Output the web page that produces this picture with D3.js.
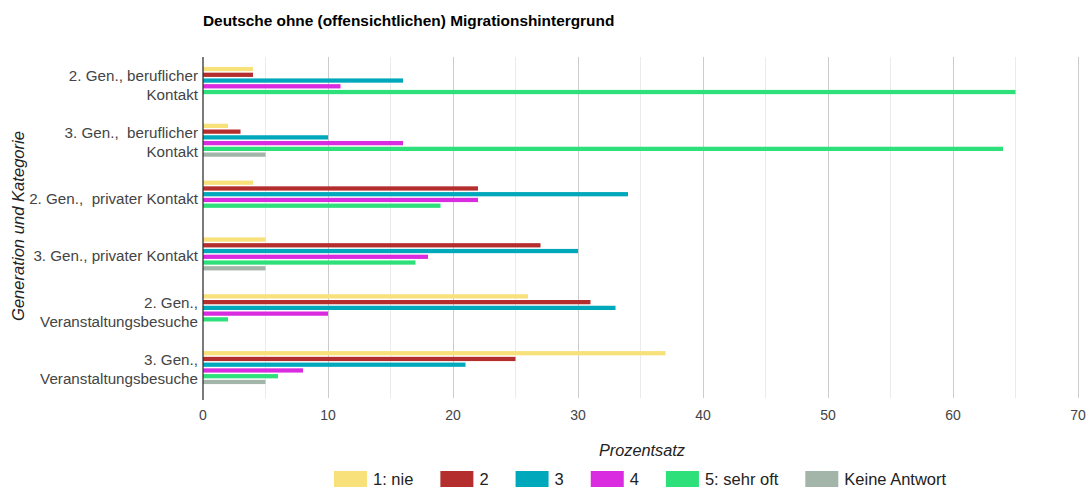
<!DOCTYPE html>
<html>
<head>
<meta charset="utf-8">
<script src="https://cdn.jsdelivr.net/npm/d3@7/dist/d3.min.js"></script>
<style>
  html, body { margin: 0; padding: 0; background: #fff; }
  svg { display: block; font-family: "Liberation Sans", Arial, sans-serif; }
  text { white-space: pre; }
</style>
</head>
<body>
<svg id="chart" width="1090" height="489"></svg>
<script>
const title = "Deutsche ohne (offensichtlichen) Migrationshintergrund";
const categories = [
  "2. Gen., beruflicher Kontakt",
  "3. Gen.,  beruflicher Kontakt",
  "2. Gen.,  privater Kontakt",
  "3. Gen., privater Kontakt",
  "2. Gen., Veranstaltungsbesuche",
  "3. Gen., Veranstaltungsbesuche"
];
const seriesNames = ["1: nie", "2", "3", "4", "5: sehr oft", "Keine Antwort"];
const seriesColors = ["#f8e07a", "#b52e2e", "#00a8bc", "#d92be0", "#2ee07a", "#a3b5a9"];
const nie       = [4, 2, 4, 5, 26, 37];
const s2        = [4, 3, 22, 27, 31, 25];
const s3        = [16, 10, 34, 30, 33, 21];
const s4        = [11, 16, 22, 18, 10, 8];
const sehrOft   = [65, 64, 19, 17, 2, 6];
const keine     = [0, 5, 0, 5, 0, 5];
const xTicks = [0, 10, 20, 30, 40, 50, 60, 70];
const xGrid = [5, 10, 15, 20, 25, 30, 35, 40, 45, 50, 55, 60, 65, 70];
const xTitle = "Prozentsatz";
const yTitle = "Generation und Kategorie";

const seriesValues = [nie, s2, s3, s4, sehrOft, keine];

const svg = d3.select("#chart");
const pLeft = 203, pRight = 1078, pTop = 55, pBottom = 396;

const x = d3.scaleLinear().domain([0, 70]).range([pLeft, pRight]);
const y = d3.scaleBand().domain(categories).range([pTop, pBottom]).padding(0);
const inner = d3.scaleBand().domain(d3.range(6)).range([0, 33]).paddingInner(0.26).paddingOuter(0);

// gridlines
svg.append("g").selectAll("line").data(xGrid).join("line")
  .attr("x1", d => x(d)).attr("x2", d => x(d))
  .attr("y1", pTop + 2).attr("y2", pBottom + 2)
  .attr("stroke", d => d % 10 === 0 ? "#cccccc" : "#ebebeb")
  .attr("stroke-width", 1)
  .attr("shape-rendering", "crispEdges");

// bars
const groups = svg.append("g").selectAll("g").data(categories).join("g")
  .attr("transform", d => `translate(0,${y(d) + (y.bandwidth() - 33) / 2})`);
groups.selectAll("rect")
  .data((c, ci) => seriesValues.map((vals, si) => ({ si, v: vals[ci] })))
  .join("rect")
  .attr("x", x(0))
  .attr("y", d => inner(d.si))
  .attr("height", inner.bandwidth())
  .attr("width", d => x(d.v) - x(0))
  .attr("fill", d => seriesColors[d.si]);

// baseline
svg.append("line")
  .attr("x1", x(0)).attr("x2", x(0))
  .attr("y1", pTop + 2).attr("y2", pBottom + 4)
  .attr("stroke", "#333").attr("stroke-width", 1.3);

// x axis labels
svg.append("g").selectAll("text").data(xTicks).join("text")
  .attr("x", d => x(d)).attr("y", 420)
  .attr("text-anchor", "middle")
  .attr("font-size", 14).attr("fill", "#444")
  .text(d => d);

// y axis labels (wrapped)
const yFont = 15.2;
const maxW = 176;
const measure = svg.append("text").attr("font-size", yFont).attr("visibility", "hidden").attr("xml:space", "preserve");
function wrap(str) {
  const words = str.split(" ");
  const lines = [];
  let cur = "";
  words.forEach((w, i) => {
    const test = i === 0 ? w : cur + " " + w;
    measure.text(test);
    if (i > 0 && cur.trim() !== "" && measure.node().getComputedTextLength() > maxW && w !== "") {
      lines.push(cur);
      cur = w;
    } else {
      cur = test;
    }
  });
  lines.push(cur);
  return lines;
}
const lh = 19;
categories.forEach(c => {
  const lines = wrap(c);
  const cy = y(c) + y.bandwidth() / 2 + 1.5;
  const t = svg.append("text")
    .attr("text-anchor", "end")
    .attr("font-size", yFont).attr("fill", "#444")
    .attr("xml:space", "preserve");
  lines.forEach((ln, i) => {
    t.append("tspan")
      .attr("x", 198)
      .attr("y", cy + (i - (lines.length - 1) / 2) * lh)
      .attr("dy", "0.35em")
      .text(ln);
  });
});
measure.remove();

// title
svg.append("text")
  .attr("x", 203).attr("y", 25.5)
  .attr("font-size", 15.4).attr("font-weight", "bold").attr("fill", "#000")
  .text(title);

// axis titles
svg.append("text")
  .attr("x", 642).attr("y", 456)
  .attr("text-anchor", "middle")
  .attr("font-size", 16.3).attr("font-style", "italic").attr("fill", "#222")
  .text(xTitle);
svg.append("text")
  .attr("transform", "translate(24,226) rotate(-90)")
  .attr("text-anchor", "middle")
  .attr("font-size", 16.6).attr("font-style", "italic").attr("fill", "#222")
  .text(yTitle);

// legend
const lg = svg.append("g").attr("transform", "translate(334,0)");
let lx = 0;
seriesNames.forEach((n, i) => {
  const g = lg.append("g").attr("transform", `translate(${lx},0)`);
  g.append("rect").attr("x", 0).attr("y", 471).attr("width", 33).attr("height", 16).attr("fill", seriesColors[i]);
  const t = g.append("text").attr("x", 39).attr("y", 479).attr("dy", "0.35em")
    .attr("font-size", 16.5).attr("fill", "#222").text(n);
  lx += 39 + t.node().getComputedTextLength() + 27;
});
</script>
</body>
</html>
